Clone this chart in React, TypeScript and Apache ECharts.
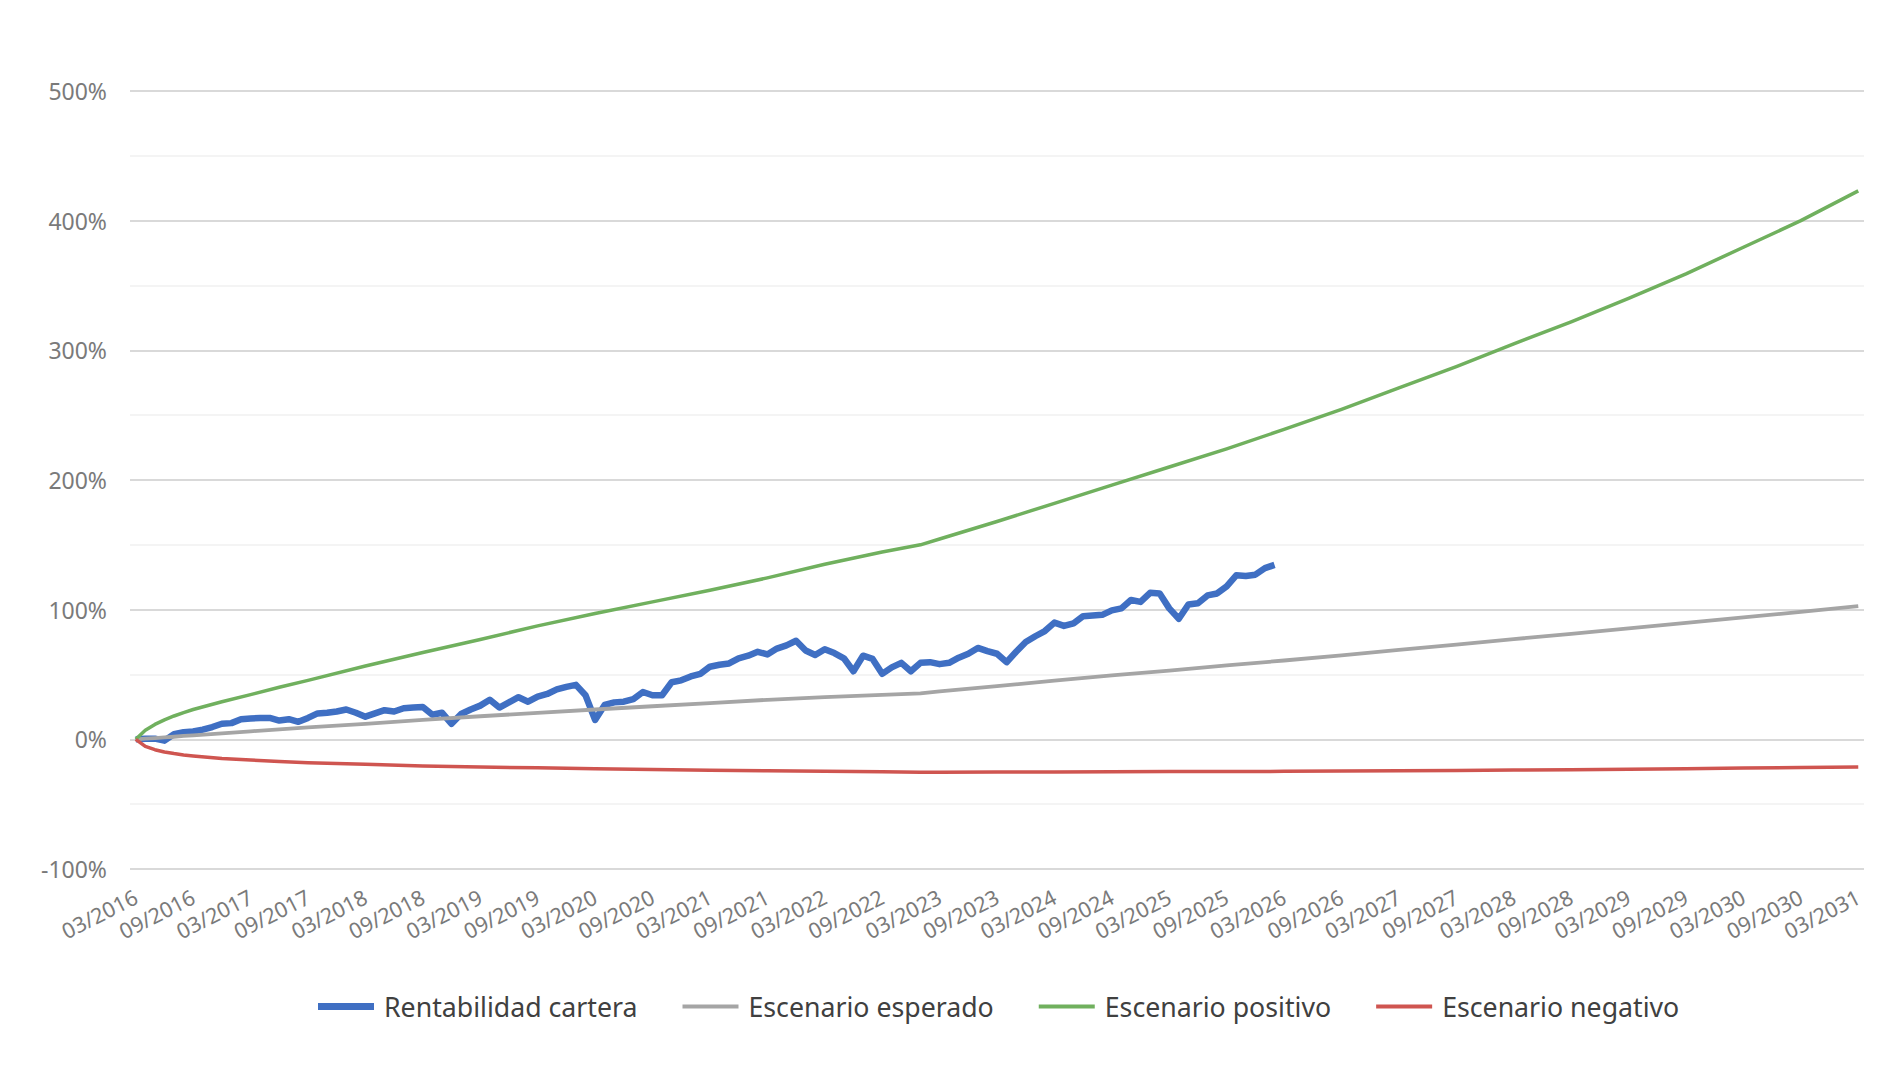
import React, { useEffect, useRef } from "react";
import * as echarts from "echarts";

const TICK_LABELS = [
  "03/2016", "09/2016", "03/2017", "09/2017", "03/2018", "09/2018", "03/2019", "09/2019",
  "03/2020", "09/2020", "03/2021", "09/2021", "03/2022", "09/2022", "03/2023", "09/2023",
  "03/2024", "09/2024", "03/2025", "09/2025", "03/2026", "09/2026", "03/2027", "09/2027",
  "03/2028", "09/2028", "03/2029", "09/2029", "03/2030", "09/2030", "03/2031",
];

const SERIES_NAMES = ["Rentabilidad cartera", "Escenario esperado", "Escenario positivo", "Escenario negativo"];

// Monthly portfolio return (%), starting 03/2016 (month 0)
const CARTERA = [
  0, 0.5, 0.5, -1, 4, 5.5, 6, 7.5, 9.5, 12,
  12.5, 15.5, 16, 16.5, 16.5, 14.5, 15.5, 13.5, 16.5, 20,
  20.5, 21.5, 23, 20.5, 17.5, 20, 22.5, 21.5, 24, 24.5,
  25, 19, 20.5, 12, 19.5, 23, 26, 30.5, 24.5, 28.5,
  32.5, 29, 33, 35, 38.5, 40.5, 42, 34, 15, 26.5,
  28.5, 29, 31, 36.5, 34, 34, 44, 45.5, 48.5, 50.5,
  56, 57.5, 58.5, 62.5, 64.5, 67.5, 65.5, 70, 72.5, 76,
  68.5, 65, 69.5, 66.5, 62.5, 52.5, 64.5, 62, 50.5, 55.5,
  59, 52.5, 59, 59.5, 58, 59, 63, 66, 70.5, 68,
  66, 59.5, 67.5, 75, 79.5, 83.5, 90, 87.5, 89.5, 95,
  95.5, 96, 99.5, 101, 107.5, 106, 113, 112.5, 101, 93,
  104, 105, 111, 112.5, 118, 126.5, 126, 127, 132, 134.5,
];

// Scenario sample months (months since 03/2016) and values (%)
const SCEN_MONTHS = [
  0, 1, 2, 3, 4, 5, 6, 9, 12, 15, 18, 24, 30, 36, 42, 48, 54, 60, 66, 72, 78, 82, 84,
  90, 96, 102, 108, 114, 120, 126, 132, 138, 144, 150, 156, 162, 168, 174, 180,
];
const ESPERADO = [
  0, 0.5, 1, 1.5, 2, 2.6, 3.1, 4.6, 6.2, 7.7, 9.2, 12, 15, 17.8, 20.4, 23, 25.5, 28, 30.5, 32.5, 34.3, 35.5, 37,
  41, 45.3, 49.3, 53, 57, 60.8, 64.8, 69, 73, 77.3, 81.3, 85.5, 89.8, 94, 98.3, 102.7,
];
const POSITIVO = [
  0, 7, 11.5, 15, 18, 20.6, 23, 29, 34.5, 40.2, 45.5, 56.5, 67, 77, 87.5, 97, 106, 115, 124.5, 135, 144.5, 150, 154.5,
  168, 182, 196, 210, 224, 239, 254.5, 271, 287.5, 305, 322, 340, 359, 379.5, 400, 423,
];
const NEGATIVO = [
  0, -5.5, -8, -9.8, -11, -12, -12.8, -14.8, -16, -17.1, -18, -19.3, -20.5, -21.3, -22, -22.7, -23.3, -23.8, -24.2, -24.6, -25, -25.3, -25.3,
  -25.2, -25.1, -25, -24.9, -24.8, -24.7, -24.5, -24.3, -24, -23.7, -23.4, -23, -22.6, -22.2, -21.8, -21.3,
];

const COLORS = ["#3F6FC3", "#A5A5A5", "#70B05E", "#CF5550"];
const FONT = "'Noto Sans', 'Open Sans', sans-serif";

const ICON_THICK = "path://M0 0L56 0L56 0Z M0 4H56V11H0Z M0 15L56 15L56 15Z";
const ICON_THIN = "path://M0 0L56 0L56 0Z M0 5.5H56V9.5H0Z M0 15L56 15L56 15Z";

export default function App() {
  const ref = useRef<HTMLDivElement>(null);

  useEffect(() => {
    if (!ref.current) return;
    const chart = echarts.init(ref.current, null, { renderer: "svg" });
    const labelMonths = TICK_LABELS.map((_, i) => i * 6);
    const pairs = (vals: number[]) => SCEN_MONTHS.map((m, i) => [m, vals[i]]);

    chart.setOption({
      animation: false,
      backgroundColor: "#ffffff",
      textStyle: { fontFamily: FONT },
      grid: { left: 130, right: 36, top: 91, bottom: 199, containLabel: false },
      legend: {
        left: 313,
        top: 988,
        itemWidth: 56,
        itemHeight: 15,
        itemGap: 45,
        symbolKeepAspect: true,
        itemStyle: { borderWidth: 0 },
        textStyle: { fontSize: 26.7, color: "#404040", fontFamily: FONT, padding: [0, 0, 0, 5] },
        data: SERIES_NAMES.map((n, i) => ({ name: n, icon: i === 0 ? ICON_THICK : ICON_THIN })),
      },
      xAxis: {
        type: "value",
        min: -0.6,
        max: 180.6,
        axisLine: { show: false },
        axisTick: { show: false },
        splitLine: { show: false },
        axisLabel: {
          customValues: labelMonths,
          formatter: (v: number) => TICK_LABELS[Math.round(v / 6)] ?? "",
          rotate: 27,
          margin: 26,
          fontSize: 21.5,
          color: "#7A7A7A",
          fontFamily: FONT,
        },
      },
      yAxis: {
        type: "value",
        min: -100,
        max: 500,
        interval: 100,
        axisLine: { show: false },
        axisTick: { show: false },
        axisLabel: { formatter: "{value}%", fontSize: 23, color: "#7A7A7A", margin: 23, fontFamily: FONT },
        splitLine: { lineStyle: { color: "#D9D9D9", width: 2 } },
        minorTick: { show: false, splitNumber: 2 },
        minorSplitLine: { show: true, lineStyle: { color: "#F0F0F0", width: 1.5 } },
      },
      series: [
        {
          name: SERIES_NAMES[0],
          type: "line",
          data: CARTERA.map((v, i) => [i, v]),
          symbol: "none",
          showSymbol: false,
          lineStyle: { color: COLORS[0], width: 6.5, join: "round", cap: "butt" },
          itemStyle: { color: COLORS[0] },
        },
        {
          name: SERIES_NAMES[1],
          type: "line",
          data: pairs(ESPERADO),
          symbol: "none",
          showSymbol: false,
          lineStyle: { color: COLORS[1], width: 3.8, join: "round" },
          itemStyle: { color: COLORS[1] },
        },
        {
          name: SERIES_NAMES[2],
          type: "line",
          data: pairs(POSITIVO),
          symbol: "none",
          showSymbol: false,
          lineStyle: { color: COLORS[2], width: 3.5, join: "round" },
          itemStyle: { color: COLORS[2] },
        },
        {
          name: SERIES_NAMES[3],
          type: "line",
          data: pairs(NEGATIVO),
          symbol: "none",
          showSymbol: false,
          lineStyle: { color: COLORS[3], width: 3.5, join: "round" },
          itemStyle: { color: COLORS[3] },
        },
      ],
    });

    return () => chart.dispose();
  }, []);

  return (
    <div
      ref={ref}
      style={{ position: "fixed", left: 0, top: 0, width: 1900, height: 1068, background: "#ffffff" }}
    />
  );
}
